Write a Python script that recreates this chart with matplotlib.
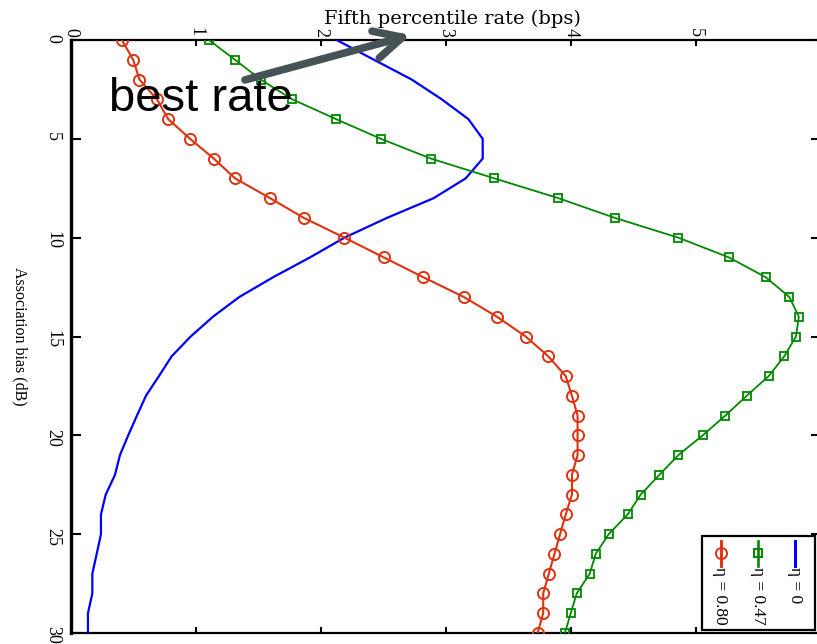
import matplotlib
matplotlib.use("Agg")
import matplotlib.pyplot as plt
from matplotlib.lines import Line2D
from matplotlib.patches import Rectangle

# ---------------- data ----------------
bias_db = list(range(0, 31))

rate_eta_080 = [0.41, 0.50, 0.55, 0.69, 0.78, 0.955, 1.145, 1.315, 1.595, 1.865,
                2.19, 2.505, 2.82, 3.145, 3.41, 3.64, 3.82, 3.96, 4.01, 4.055,
                4.055, 4.055, 4.01, 4.01, 3.96, 3.915, 3.87, 3.825, 3.78, 3.78, 3.735]

rate_eta_047 = [1.106, 1.314, 1.52, 1.772, 2.122, 2.482, 2.882, 3.389, 3.901, 4.354,
                4.861, 5.266, 5.56, 5.749, 5.825, 5.802, 5.709, 5.584, 5.408, 5.237,
                5.056, 4.861, 4.709, 4.56, 4.456, 4.304, 4.2, 4.152, 4.048, 4.0, 3.954]

rate_eta_0 = [2.128, 2.426, 2.728, 2.968, 3.181, 3.296, 3.296, 3.16, 2.904, 2.53,
              2.19, 1.914, 1.62, 1.349, 1.138, 0.96, 0.808, 0.706, 0.602, 0.53,
              0.46, 0.394, 0.354, 0.28, 0.242, 0.242, 0.208, 0.173, 0.173, 0.138, 0.138]

series_labels = ["η = 0", "η = 0.47", "η = 0.80"]
rate_ticks = [0, 1, 2, 3, 4, 5, 6]
bias_ticks = [0, 5, 10, 15, 20, 25, 30]

# ---------------- style ----------------
c_red = "#dd3311"
c_green = "#008800"
c_blue = "#0000ff"
serif = "Liberation Serif"

fig = plt.figure(figsize=(8.17, 6.44), dpi=100)
ax = fig.add_axes([70.7 / 817, 11 / 644, 750 / 817, 593 / 644])

ax.plot(rate_eta_0, bias_db, color=c_blue, lw=1.6, zorder=3)
ax.plot(rate_eta_047, bias_db, color=c_green, lw=1.3, marker="s", ms=5.5,
        mfc="none", mec=c_green, mew=1.3, zorder=4)
ax.plot(rate_eta_080, bias_db, color=c_red, lw=1.5, marker="o", ms=8,
        mfc="none", mec=c_red, mew=1.4, zorder=5)

ax.set_xlim(0, 6)
ax.set_ylim(30, 0)
ax.set_xticks(rate_ticks)
ax.set_yticks(bias_ticks)
ax.set_xticklabels([str(t) for t in rate_ticks])
ax.set_yticklabels([str(t) for t in bias_ticks])

ax.tick_params(axis="x", which="both", direction="in", top=True, bottom=True,
               labeltop=True, labelbottom=False, length=4.5, width=1.5, pad=2.5,
               labelrotation=-90, labelsize=13)
ax.tick_params(axis="y", which="both", direction="in", left=True, right=True,
               labelleft=True, labelright=False, length=7.5, width=1.5, pad=7.0,
               labelrotation=-90, labelsize=13)
for lab in ax.get_xticklabels() + ax.get_yticklabels():
    lab.set_fontfamily(serif)

ax.spines["left"].set_linewidth(2.4)
ax.spines["top"].set_linewidth(1.6)
ax.spines["bottom"].set_linewidth(1.6)
ax.spines["right"].set_linewidth(1.6)

# axis labels
ax.xaxis.set_label_position("top")
ax.set_xlabel("Fifth percentile rate (bps)", fontsize=14, fontfamily="DejaVu Serif")
ax.xaxis.set_label_coords((452.5 - 70.7) / 750, (633 - 24) / 593)
ax.xaxis.label.set_va("baseline")
ax.xaxis.label.set_ha("center")

ax.set_ylabel("Association bias (dB)", fontsize=11.5, fontfamily=serif,
              rotation=-90)
ax.yaxis.set_label_coords((20 - 70.7) / 750, 0.5)
ax.yaxis.label.set_va("center")
ax.yaxis.label.set_ha("center")

# annotation
ax.text(0.307, 3.58, "best rate", fontsize=34, fontfamily="Liberation Sans",
        ha="left", va="baseline", color="black", zorder=6)
ax.annotate("", xy=(2.72, -0.25), xytext=(1.394, 2.02), xycoords="data",
            textcoords="data", annotation_clip=False,
            arrowprops=dict(arrowstyle="->, head_length=1.0, head_width=0.5",
                            color="#475257", lw=5.5, shrinkA=0, shrinkB=0,
                            mutation_scale=20),
            zorder=7)

# legend (drawn rotated, like the rest of the chart)
def fx(px):
    return (px - 70.7) / 750

def fy(py):
    return (633 - py) / 593

box = Rectangle((fx(702), fy(630)), fx(815) - fx(702), fy(536) - fy(630),
                transform=ax.transAxes, facecolor="white", edgecolor="black",
                lw=1.6, clip_on=False, zorder=8)
ax.add_patch(box)

legend_items = [
    (795.0, c_blue, None, 1.6, series_labels[0]),
    (757.7, c_green, "s", 1.3, series_labels[1]),
    (720.5, c_red, "o", 1.5, series_labels[2]),
]
for kx, col, mk, lw, lab in legend_items:
    ax.add_line(Line2D([fx(kx), fx(kx)], [fy(541), fy(566)], transform=ax.transAxes,
                       color=col, lw=lw + 0.6, clip_on=False, zorder=9))
    if mk is not None:
        ax.add_line(Line2D([fx(kx)], [fy(553)], transform=ax.transAxes, color=col,
                           marker=mk, ms=8 if mk == "o" else 5.5, mfc="none",
                           mec=col, mew=1.4, lw=0, clip_on=False, zorder=9))
    ax.text(fx(kx), fy(567), lab, transform=ax.transAxes, rotation=-90,
            ha="center", va="top", fontsize=12.5, fontfamily=serif, zorder=10)

fig.savefig("out.png", dpi=100)
